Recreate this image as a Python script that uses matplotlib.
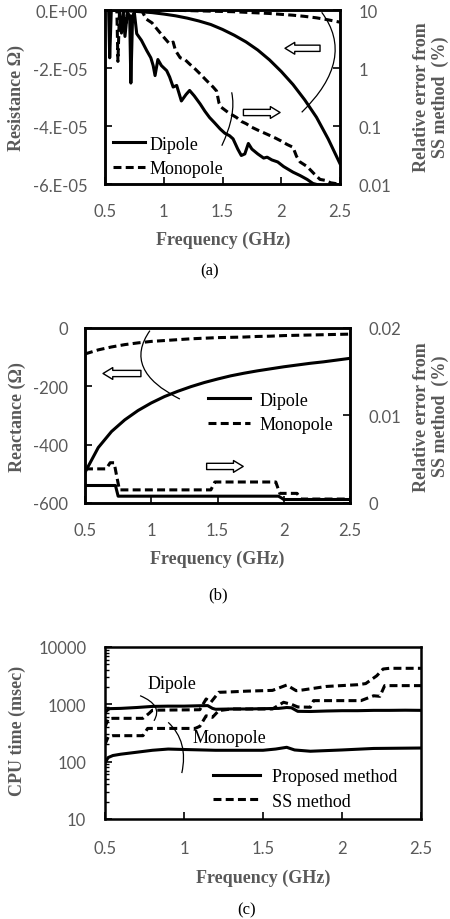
import numpy as np
import matplotlib
matplotlib.use("Agg")
import matplotlib.pyplot as plt
from matplotlib.path import Path
from matplotlib.patches import PathPatch
from matplotlib.ticker import FixedLocator, FixedFormatter, NullLocator, LogLocator

# ---------------- data ----------------
# (a) resistance, left axis
res_freq = [0.5, 0.6, 0.7, 0.8, 0.9, 1.0, 1.1, 1.2, 1.3, 1.4, 1.5, 1.6, 1.7,
            1.8, 1.9, 2.0, 2.1, 2.2, 2.3, 2.4, 2.5]
res_dipole = [0, -0.02, -0.03, -0.06, -0.09, -0.14, -0.2, -0.28, -0.38, -0.5,
              -0.67, -0.87, -1.1, -1.38, -1.72, -2.12, -2.57, -3.1, -3.7,
              -4.45, -5.3]  # x 1e-5
res_monopole = [0, 0, 0, 0, 0, -0.01, -0.01, -0.02, -0.03, -0.04, -0.05,
                -0.06, -0.08, -0.1, -0.12, -0.15, -0.18, -0.22, -0.27,
                -0.34, -0.42]  # x 1e-5

# (a) relative error, right axis (log)
err_dip_freq = [0.50, 0.53, 0.54, 0.555, 0.58, 0.62, 0.64, 0.655, 0.67, 0.69,
                0.71, 0.72, 0.735, 0.75, 0.77, 0.81, 0.855, 0.89, 0.91, 0.926,
                0.95, 0.98, 1.025, 1.05, 1.08, 1.11, 1.15, 1.19, 1.22, 1.26,
                1.31, 1.35, 1.39, 1.43, 1.48, 1.52, 1.56, 1.59, 1.63, 1.66,
                1.69, 1.72, 1.75, 1.8, 1.85, 1.88, 1.92, 1.97, 2.02, 2.1,
                2.16, 2.22, 2.27, 2.32, 2.36]
err_dip = [12, 12, 1.5, 12, 12, 10, 4, 9, 3.5, 9, 8, 0.55, 8, 9, 3.9, 3.0,
           2.0, 1.5, 1.1, 0.74, 1.4, 1.1, 0.9, 0.7, 0.47, 0.5, 0.27, 0.35,
           0.41, 0.33, 0.24, 0.18, 0.14, 0.115, 0.089, 0.075, 0.068, 0.06,
           0.04, 0.031, 0.033, 0.05, 0.04, 0.033, 0.028, 0.029, 0.026, 0.024,
           0.02, 0.016, 0.014, 0.012, 0.0102, 0.0096, 0.0092]
err_mono_freq = [0.60, 0.61, 0.625, 0.64, 0.66, 0.68, 0.70, 0.80, 0.85, 0.9,
                 0.95, 1.0, 1.05, 1.08, 1.1, 1.14, 1.18, 1.22, 1.27, 1.31,
                 1.36, 1.42, 1.45, 1.47, 1.49, 1.55, 1.62, 1.66, 1.7, 1.75,
                 1.8, 1.88, 1.95, 2.0, 2.05, 2.1, 2.13, 2.16, 2.22, 2.28,
                 2.33, 2.38, 2.42, 2.46, 2.5]
err_mono = [12, 1.3, 12, 5, 10, 6, 12, 11, 7, 6, 4.5, 3.4, 2.6, 2.8, 2.0, 1.5,
            1.4, 1.17, 0.95, 0.79, 0.62, 0.47, 0.4, 0.25, 0.21, 0.17, 0.14,
            0.12, 0.11, 0.095, 0.085, 0.072, 0.062, 0.055, 0.048, 0.043,
            0.03, 0.024, 0.02, 0.015, 0.012, 0.0115, 0.0105, 0.0102, 0.0098]

# (b) reactance, left axis
rea_freq = [0.5, 0.6, 0.7, 0.8, 0.9, 1.0, 1.1, 1.2, 1.3, 1.4, 1.5, 1.6, 1.7,
            1.8, 1.9, 2.0, 2.1, 2.2, 2.3, 2.4, 2.5]
rea_dipole = [-495, -410, -355, -315, -283, -257, -235, -217, -201, -187,
              -175, -164, -155, -147, -140, -133, -127, -121, -116, -110, -104]
rea_monopole = [-89, -75, -65, -57, -51, -46, -43, -40, -37, -35, -33, -32,
                -31, -29, -28, -26, -25, -24, -23, -22, -21]

# (b) relative error, right axis (step-like)
rerr_dip_freq = [0.5, 0.73, 0.75, 1.96, 1.98, 2.0, 2.5]
rerr_dip = [0.0020, 0.0020, 0.00078, 0.00078, 0.0006, 0.0004, 0.0004]
rerr_mono_freq = [0.5, 0.66, 0.69, 0.72, 0.74, 0.76, 1.45, 1.48, 1.94, 1.97,
                  2.1, 2.13, 2.5]
rerr_mono = [0.0039, 0.0039, 0.0046, 0.0046, 0.0030, 0.0015, 0.0015, 0.0024,
             0.0024, 0.0011, 0.0011, 0.00045, 0.00045]

# (c) CPU time
cpu_prop_dip_freq = [0.5, 0.52, 0.6, 0.7, 0.8, 0.9, 1.0, 1.1, 1.15, 1.18, 1.2,
                     1.3, 1.4, 1.5, 1.6, 1.65, 1.68, 1.72, 1.8, 1.9, 2.0, 2.1,
                     2.2, 2.3, 2.4, 2.5]
cpu_prop_dip = [700, 840, 850, 880, 920, 930, 930, 945, 950, 850, 820, 830,
                830, 840, 850, 880, 870, 755, 750, 765, 775, 775, 785, 785,
                790, 785]
cpu_prop_mono_freq = [0.5, 0.52, 0.55, 0.6, 0.7, 0.8, 0.9, 1.0, 1.2, 1.4, 1.5,
                      1.58, 1.65, 1.7, 1.8, 2.0, 2.2, 2.5]
cpu_prop_mono = [95, 118, 128, 135, 146, 158, 166, 163, 158, 158, 158, 166,
                 178, 160, 152, 160, 170, 173]
cpu_ss_dip_freq = [0.5, 0.52, 0.55, 0.74, 0.78, 0.8, 1.1, 1.14, 1.17, 1.22,
                   1.3, 1.4, 1.56, 1.65, 1.71, 1.75, 1.9, 2.1, 2.15, 2.22,
                   2.26, 2.3, 2.5]
cpu_ss_dip = [400, 560, 570, 570, 700, 790, 805, 1240, 1085, 1620, 1650, 1700,
              1750, 2170, 1730, 1780, 2050, 2200, 2300, 3150, 4130, 4250, 4250]
cpu_ss_mono_freq = [0.5, 0.52, 0.55, 0.74, 0.77, 1.07, 1.1, 1.14, 1.18, 1.22,
                    1.3, 1.56, 1.63, 1.68, 1.72, 1.8, 1.82, 2.12, 2.2, 2.24,
                    2.27, 2.5]
cpu_ss_mono = [200, 270, 284, 284, 380, 380, 413, 630, 594, 777, 830, 830,
               1085, 1000, 900, 890, 1160, 1160, 1410, 1380, 2120, 2120]

xticks = [0.5, 1, 1.5, 2, 2.5]
xticklabels = ["0.5", "1", "1.5", "2", "2.5"]

# ---------------- styling ----------------
W, H = 450, 920
GREY = "#595959"
SERIF = ["Liberation Serif", "DejaVu Serif"]
SANS = ["Lato", "DejaVu Sans"]
LW = 2.2
DASH = (2.6, 1.4)

plt.rcParams["font.family"] = SANS

fig = plt.figure(figsize=(W / 100, H / 100), dpi=100)


def box(l, t, r, b):
    return [l / W, 1 - b / H, (r - l) / W, (b - t) / H]


def ftext(x, y, s, **kw):
    fig.text(x / W, 1 - y / H, s, ha="center", va="center", **kw)


def style_axis(ax, xpad, ypad, side="left"):
    for sp in ax.spines.values():
        sp.set_linewidth(1.8)
    ax.tick_params(axis="x", direction="in", length=5, width=1.2,
                   labelsize=12, labelcolor=GREY, pad=xpad, top=False)
    ax.tick_params(axis="y", direction="in", length=5, width=1.2,
                   labelsize=12, labelcolor=GREY, pad=ypad)


def curve(ax, p0, c, p1):
    path = Path([p0, c, p1], [Path.MOVETO, Path.CURVE3, Path.CURVE3])
    ax.add_patch(PathPatch(path, fc="none", ec="black", lw=0.9,
                           transform=ax.transAxes, clip_on=False, zorder=5))


def hollow_arrow(ax, x_from, x_to, y):
    ax.annotate("", xy=(x_to, y), xytext=(x_from, y), xycoords="axes fraction",
                arrowprops=dict(arrowstyle="simple,head_length=0.7,head_width=0.85,tail_width=0.45",
                                fc="white", ec="black", lw=1.0,
                                shrinkA=0, shrinkB=0), zorder=6)


# ---------------- (a) ----------------
ax = fig.add_axes(box(105, 11, 340, 185))
ax.plot(res_freq, np.array(res_dipole) * 1e-5, color="black", lw=LW,
        label="Dipole")
ax.plot(res_freq, np.array(res_monopole) * 1e-5, color="black", lw=LW,
        dashes=DASH, label="Monopole")
ax.set_xlim(0.5, 2.5)
ax.set_ylim(-6e-5, 0)
ax.xaxis.set_major_locator(FixedLocator(xticks))
ax.xaxis.set_major_formatter(FixedFormatter(xticklabels))
ax.yaxis.set_major_locator(FixedLocator([0, -2e-5, -4e-5, -6e-5]))
ax.yaxis.set_major_formatter(FixedFormatter(["0.E+00", "-2.E-05", "-4.E-05",
                                             "-6.E-05"]))
style_axis(ax, 14, 12.5)

ax2 = ax.twinx()
ax2.plot(err_dip_freq, err_dip, color="black", lw=LW)
ax2.plot(err_mono_freq, err_mono, color="black", lw=LW, dashes=DASH)
ax2.set_yscale("log")
ax2.set_ylim(0.01, 10)
ax2.yaxis.set_major_locator(FixedLocator([0.01, 0.1, 1, 10]))
ax2.yaxis.set_major_formatter(FixedFormatter(["0.01", "0.1", "1", "10"]))
ax2.yaxis.set_minor_locator(NullLocator())
style_axis(ax2, 14, 13.5)

h, l = ax.get_legend_handles_labels()
ax2.legend(h, l, loc="lower left", bbox_to_anchor=(0.034, 0.04),
           frameon=False, borderpad=0, borderaxespad=0, handlelength=1.8,
           handletextpad=0.25, labelspacing=0.4,
           prop=dict(family=SERIF, size=13))

curve(ax2, (0.922, 0.987), (1.07, 0.72), (0.837, 0.412))
curve(ax2, (0.539, 0.527), (0.56, 0.40), (0.497, 0.22))
hollow_arrow(ax2, 0.915, 0.766, 0.78)
hollow_arrow(ax2, 0.589, 0.745, 0.411)

ftext(16, 98, "Resistance Ω)", rotation=90, color=GREY, fontsize=13,
      fontweight="bold", family=SERIF)
ftext(431, 97, "Relative error from\nSS method  (%)", rotation=90,
      color=GREY, fontsize=13, fontweight="bold", family=SERIF,
      linespacing=1.1)
ftext(222.7, 240, "Frequency (GHz)", color=GREY, fontsize=13,
      fontweight="bold", family=SERIF)
ftext(210, 271.7, "(a)", color="black", fontsize=12, family=SERIF)

# ---------------- (b) ----------------
bx = fig.add_axes(box(85, 329, 350, 504))
bx.plot(rea_freq, rea_dipole, color="black", lw=LW, label="Dipole")
bx.plot(rea_freq, rea_monopole, color="black", lw=LW, dashes=DASH,
        label="Monopole")
bx.set_xlim(0.5, 2.5)
bx.set_ylim(-600, 0)
bx.xaxis.set_major_locator(FixedLocator(xticks))
bx.xaxis.set_major_formatter(FixedFormatter(xticklabels))
bx.yaxis.set_major_locator(FixedLocator([0, -200, -400, -600]))
bx.yaxis.set_major_formatter(FixedFormatter(["0", "-200", "-400", "-600"]))
style_axis(bx, 14, 12)

bx2 = bx.twinx()
bx2.plot(rerr_dip_freq, rerr_dip, color="black", lw=LW)
bx2.plot(rerr_mono_freq, rerr_mono, color="black", lw=LW, dashes=DASH)
bx2.set_ylim(0, 0.02)
bx2.yaxis.set_major_locator(FixedLocator([0, 0.01, 0.02]))
bx2.yaxis.set_major_formatter(FixedFormatter(["0", "0.01", "0.02"]))
style_axis(bx2, 14, 13)

h, l = bx.get_legend_handles_labels()
bx2.legend(h, l, loc="lower left", bbox_to_anchor=(0.464, 0.40),
           frameon=False, borderpad=0, borderaxespad=0, handlelength=2.35,
           handletextpad=0.5, labelspacing=0.4,
           prop=dict(family=SERIF, size=13))

curve(bx2, (0.245, 0.985), (0.14, 0.76), (0.358, 0.594))
hollow_arrow(bx2, 0.211, 0.068, 0.74)
hollow_arrow(bx2, 0.459, 0.597, 0.209)

ftext(17, 416.7, "Reactance (Ω)", rotation=90, color=GREY, fontsize=13,
      fontweight="bold", family=SERIF)
ftext(431, 416.7, "Relative error from\nSS method  (%)", rotation=90,
      color=GREY, fontsize=13, fontweight="bold", family=SERIF,
      linespacing=1.1)
ftext(217.3, 559.3, "Frequency (GHz)", color=GREY, fontsize=13,
      fontweight="bold", family=SERIF)
ftext(218.3, 595, "(b)", color="black", fontsize=12, family=SERIF)

# ---------------- (c) ----------------
cx = fig.add_axes(box(105, 648, 421, 820))
cx.plot(cpu_prop_dip_freq, cpu_prop_dip, color="black", lw=LW,
        label="Proposed method")
cx.plot(cpu_ss_dip_freq, cpu_ss_dip, color="black", lw=LW, dashes=DASH,
        label="SS method")
cx.plot(cpu_prop_mono_freq, cpu_prop_mono, color="black", lw=LW)
cx.plot(cpu_ss_mono_freq, cpu_ss_mono, color="black", lw=LW, dashes=DASH)
cx.set_yscale("log")
cx.set_xlim(0.5, 2.5)
cx.set_ylim(10, 10000)
cx.xaxis.set_major_locator(FixedLocator(xticks))
cx.xaxis.set_major_formatter(FixedFormatter(xticklabels))
cx.yaxis.set_major_locator(FixedLocator([10, 100, 1000, 10000]))
cx.yaxis.set_major_formatter(FixedFormatter(["10", "100", "1000", "10000"]))
cx.yaxis.set_minor_locator(LogLocator(base=10, subs=np.arange(2, 10)))
cx.yaxis.set_minor_formatter(FixedFormatter([]))
style_axis(cx, 15, 13.5)
cx.tick_params(axis="y", which="minor", direction="in", length=3, width=1.0,
               right=False)
cx.tick_params(axis="y", right=False)

cx.legend(loc="lower left", bbox_to_anchor=(0.342, 0.055), frameon=False,
          borderpad=0, borderaxespad=0, handlelength=2.6, handletextpad=0.65,
          labelspacing=0.4, prop=dict(family=SERIF, size=13))

cx.text(0.211, 0.785, "Dipole", transform=cx.transAxes, ha="center",
        va="center", fontsize=13, family=SERIF)
cx.text(0.393, 0.475, "Monopole", transform=cx.transAxes, ha="center",
        va="center", fontsize=13, family=SERIF)
curve(cx, (0.111, 0.717), (0.185, 0.66), (0.155, 0.571))
curve(cx, (0.2, 0.562), (0.265, 0.45), (0.243, 0.267))

ftext(17, 731, "CPU time (msec)", rotation=90, color=GREY, fontsize=13,
      fontweight="bold", family=SERIF)
ftext(262.7, 878.3, "Frequency (GHz)", color=GREY, fontsize=13,
      fontweight="bold", family=SERIF)
ftext(246.7, 910, "(c)", color="black", fontsize=12, family=SERIF)

fig.savefig("out.png", dpi=100)
